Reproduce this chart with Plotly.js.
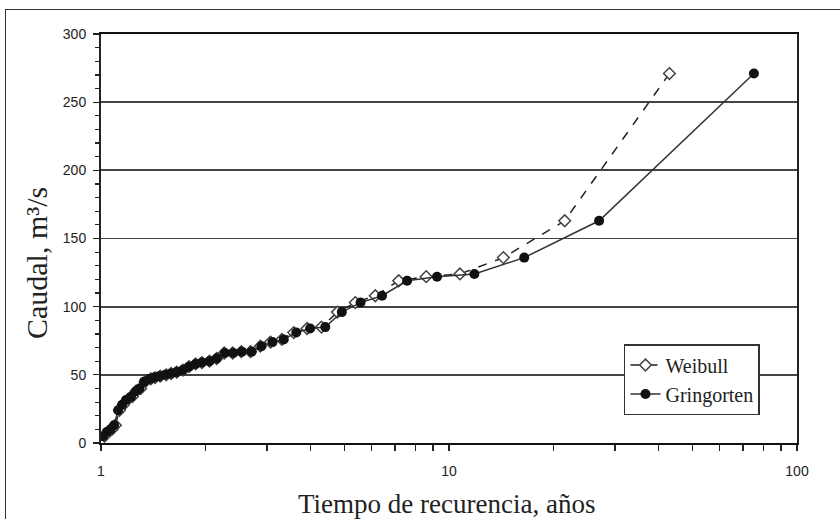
<!DOCTYPE html>
<html>
<head>
<meta charset="utf-8">
<script src="https://cdn.plot.ly/plotly-3.0.1.min.js"></script>
<style>
html,body{margin:0;padding:0;background:#fff;overflow:hidden;}
#chart{width:840px;height:519px;}
#frame{position:absolute;left:5px;top:9px;width:900px;height:600px;border:1.5px solid #333;pointer-events:none;}
</style>
</head>
<body>
<div id="chart"></div>
<div id="frame"></div>
<script>
// Caudal (m3/s), ordered from largest to smallest
const caudal = [271, 163, 136, 124, 122, 119, 108, 103, 96, 85,
  84, 81, 76, 74, 71, 67, 67, 66, 66, 62,
  60, 59, 58, 56, 53.5, 52, 51, 50, 49, 48,
  47, 45, 40, 38, 34, 31.5, 28, 24, 13, 10,
  8, 5];
// Return period (years) - Weibull plotting position
const tWeibull = [43, 21.5, 14.33, 10.75, 8.6, 7.17, 6.14, 5.38, 4.78, 4.3,
  3.91, 3.58, 3.31, 3.07, 2.87, 2.69, 2.53, 2.39, 2.26, 2.15,
  2.05, 1.95, 1.87, 1.79, 1.72, 1.65, 1.59, 1.54, 1.48, 1.43,
  1.39, 1.34, 1.30, 1.26, 1.23, 1.19, 1.16, 1.13, 1.10, 1.075,
  1.049, 1.024];
// Return period (years) - Gringorten plotting position
const tGringorten = [75.2, 27.0, 16.45, 11.83, 9.24, 7.58, 6.42, 5.57, 4.92, 4.41,
  3.99, 3.64, 3.35, 3.11, 2.89, 2.71, 2.54, 2.40, 2.27, 2.15,
  2.05, 1.95, 1.87, 1.79, 1.72, 1.65, 1.59, 1.53, 1.47, 1.42,
  1.38, 1.33, 1.29, 1.26, 1.22, 1.18, 1.15, 1.12, 1.09, 1.065,
  1.039, 1.014];
const seriesNames = ['Weibull', 'Gringorten'];
const yTickVals = [0, 50, 100, 150, 200, 250, 300];
const yMinorVals = [10, 20, 30, 40, 60, 70, 80, 90, 110, 120, 130, 140, 160, 170, 180, 190, 210, 220, 230, 240, 260, 270, 280, 290];
const xTickVals = [1, 2, 3, 4, 5, 6, 7, 8, 9, 10, 20, 30, 40, 50, 60, 70, 80, 90, 100];
const xTickText = ['1', '', '', '', '', '', '', '', '', '10', '', '', '', '', '', '', '', '', '100'];
const xTitle = 'Tiempo de recurencia, años';
const yTitle = 'Caudal, m³/s';

const serif = '"Liberation Serif", "Times New Roman", serif';
const sans = '"Liberation Sans", Arial, sans-serif';

const traces = [
  {
    x: tWeibull, y: caudal, name: seriesNames[0], type: 'scatter', mode: 'lines+markers',
    line: {color: '#222', width: 1.5, dash: 'dash'},
    marker: {symbol: 'diamond', size: 9, color: '#fff', line: {color: '#444', width: 1.5}}
  },
  {
    x: tGringorten, y: caudal, name: seriesNames[1], type: 'scatter', mode: 'lines+markers',
    line: {color: '#333', width: 1.5},
    marker: {symbol: 'circle', size: 10, color: '#111', line: {color: '#111', width: 0}}
  }
];

const layout = {
  width: 840, height: 519,
  margin: {l: 101, r: 43, t: 34, b: 76},
  paper_bgcolor: '#fff', plot_bgcolor: '#fff',
  font: {family: serif, color: '#222'},
  showlegend: true,
  legend: {
    x: 0.7514, y: 0.242, xanchor: 'left', yanchor: 'top',
    bgcolor: '#fff', bordercolor: '#333', borderwidth: 1.5,
    font: {family: serif, size: 20, color: '#222'},
    tracegroupgap: 0, itemwidth: 30
  },
  xaxis: {
    type: 'log', range: [0, 2],
    tickmode: 'array', tickvals: xTickVals, ticktext: xTickText,
    ticks: 'outside', ticklen: 6, tickcolor: '#222', tickwidth: 1.2,
    ticklabelstandoff: 8,
    showgrid: false,
    showline: true, linecolor: '#111', linewidth: 2, mirror: true,
    tickfont: {family: sans, size: 14, color: '#222'},
    zeroline: false
  },
  yaxis: {
    range: [0, 300],
    tickmode: 'array', tickvals: yTickVals,
    ticks: 'outside', ticklen: 6, tickcolor: '#222', tickwidth: 1.2,
    ticklabelstandoff: 4,
    minor: {tickmode: 'array', tickvals: yMinorVals, ticks: 'outside', ticklen: 4, tickcolor: '#222', tickwidth: 1.2, showgrid: false},
    showgrid: true, gridcolor: '#444', gridwidth: 1.8,
    showline: true, linecolor: '#222', linewidth: 2, mirror: true,
    tickfont: {family: sans, size: 14, color: '#222'},
    zeroline: false
  },
  annotations: [
    {text: xTitle, xref: 'paper', yref: 'paper', x: 0.497, y: -0.149, xanchor: 'center', yanchor: 'middle',
     showarrow: false, font: {family: serif, size: 27, color: '#222'}},
    {text: yTitle, xref: 'paper', yref: 'paper', x: -0.0934, y: 0.44, xanchor: 'center', yanchor: 'middle',
     textangle: -90, showarrow: false, font: {family: serif, size: 30, color: '#222'}}
  ]
};

Plotly.newPlot('chart', traces, layout, {displayModeBar: false, staticPlot: true});
</script>
</body>
</html>
